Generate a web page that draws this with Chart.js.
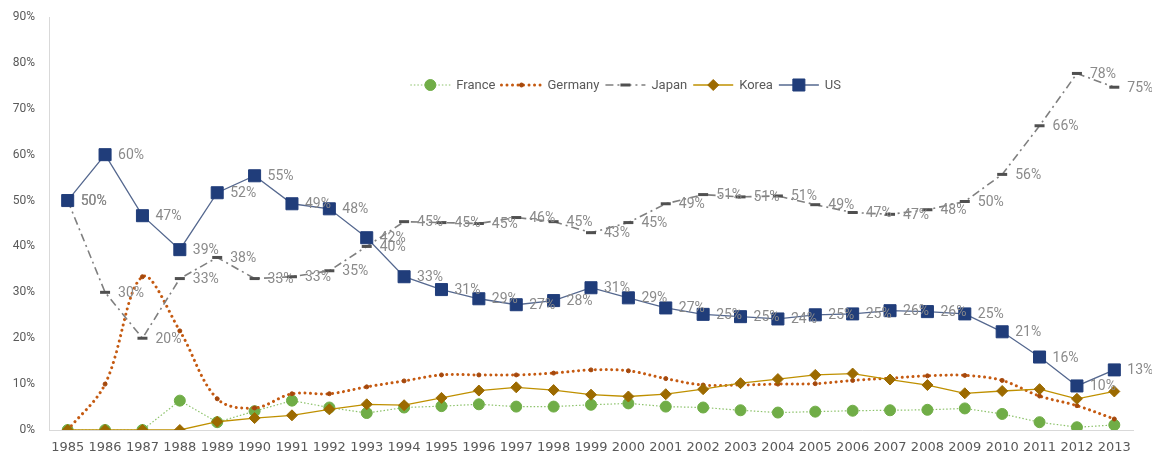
<!DOCTYPE html>
<html>
<head>
<meta charset="utf-8">
<script src="https://cdn.jsdelivr.net/npm/chart.js@4/dist/chart.umd.min.js"></script>
<style>
  html, body { margin: 0; padding: 0; background: #ffffff; }
  #wrap { width: 1152px; height: 454px; position: relative; }
</style>
</head>
<body>
<div id="wrap"><canvas id="chart"></canvas></div>
<script>
// Share of each country, in percent, by year
const years = ['1985','1986','1987','1988','1989','1990','1991','1992','1993','1994',
  '1995','1996','1997','1998','1999','2000','2001','2002','2003','2004',
  '2005','2006','2007','2008','2009','2010','2011','2012','2013'];

const france = [0, 0, 0, 6.4, 1.7, 4.1, 6.4, 4.9, 3.7, 4.9,
  5.2, 5.6, 5.1, 5.1, 5.5, 5.8, 5.1, 4.9, 4.3, 3.8,
  4.0, 4.2, 4.3, 4.4, 4.7, 3.5, 1.7, 0.6, 1.1];

const germany = [0, 10, 33.4, 21.6, 6.8, 4.8, 7.9, 7.9, 9.4, 10.7,
  12.0, 12.0, 12.0, 12.4, 13.1, 12.9, 11.2, 9.8, 9.8, 10.0,
  10.1, 10.8, 11.3, 11.8, 11.9, 10.8, 7.4, 5.3, 2.4];

const japan = [50, 30, 20, 33, 37.6, 33.0, 33.4, 34.7, 40.0, 45.4,
  45.2, 45.0, 46.3, 45.4, 43.0, 45.2, 49.3, 51.3, 50.8, 51.0,
  49.1, 47.4, 47.0, 48.0, 49.8, 55.7, 66.3, 77.7, 74.7];

const korea = [0, 0, 0, 0, 1.8, 2.6, 3.2, 4.5, 5.6, 5.4,
  7.0, 8.6, 9.3, 8.7, 7.7, 7.3, 7.8, 8.9, 10.2, 11.1,
  12.0, 12.3, 11.0, 9.8, 8.0, 8.5, 8.9, 6.8, 8.4];

const us = [50, 60, 46.7, 39.3, 51.7, 55.4, 49.3, 48.2, 41.9, 33.4,
  30.6, 28.6, 27.3, 28.2, 31.0, 28.8, 26.6, 25.2, 24.7, 24.2,
  25.1, 25.3, 26.0, 25.8, 25.3, 21.4, 15.9, 9.6, 13.1];

const yMax = 90;
const yStep = 10;

const fmtPct = v => Math.round(v) + '%';

// Value labels to the right of each point, for series flagged with showValues
const valueLabels = {
  id: 'valueLabels',
  afterDatasetsDraw(chart) {
    const ctx = chart.ctx;
    ctx.save();
    ctx.font = '14px Roboto, "Open Sans", sans-serif';
    ctx.fillStyle = '#8a8a8a';
    ctx.textAlign = 'left';
    ctx.textBaseline = 'middle';
    chart.data.datasets.forEach((ds, i) => {
      if (!ds.showValues) return;
      const meta = chart.getDatasetMeta(i);
      meta.data.forEach((pt, j) => {
        ctx.fillText(fmtPct(ds.data[j]), pt.x + 13, pt.y + 1);
      });
    });
    ctx.restore();
  }
};

// Draw a point marker in the style of a dataset
function drawMarker(ctx, ds, x, y) {
  const r = ds.pointRadius;
  ctx.save();
  ctx.fillStyle = ds.pointBackgroundColor;
  ctx.strokeStyle = ds.pointBorderColor;
  ctx.lineWidth = ds.pointBorderWidth;
  ctx.setLineDash([]);
  ctx.beginPath();
  switch (ds.pointStyle) {
    case 'rect': {
      const s = r * Math.SQRT1_2;
      ctx.rect(x - s, y - s, 2 * s, 2 * s);
      ctx.fill(); ctx.stroke();
      break;
    }
    case 'rectRot':
      ctx.moveTo(x, y - r); ctx.lineTo(x + r, y); ctx.lineTo(x, y + r); ctx.lineTo(x - r, y);
      ctx.closePath(); ctx.fill(); ctx.stroke();
      break;
    case 'line':
      ctx.moveTo(x - r, y); ctx.lineTo(x + r, y); ctx.stroke();
      break;
    default:
      ctx.arc(x, y, r, 0, Math.PI * 2);
      ctx.fill(); ctx.stroke();
  }
  ctx.restore();
}

// Legend row with line-and-marker samples, placed inside the plot area
const sampleLegend = {
  id: 'sampleLegend',
  afterDraw(chart) {
    const ctx = chart.ctx;
    const area = chart.chartArea;
    const sampleW = 40, textGap = 6, itemGap = 6;
    const order = ['France', 'Germany', 'Japan', 'Korea', 'US'];
    const items = order.map(n => chart.data.datasets.find(d => d.label === n));
    ctx.save();
    ctx.font = '13px Roboto, "Open Sans", sans-serif';
    const widths = items.map(d => sampleW + textGap + ctx.measureText(d.label).width);
    const total = widths.reduce((a, b) => a + b, 0) + itemGap * (items.length - 1);
    const cy = area.top + 68;
    let x = area.left + (area.right - area.left) * 0.532 - total / 2;
    items.forEach((d, i) => {
      ctx.save();
      ctx.strokeStyle = d.borderColor;
      ctx.lineWidth = d.borderWidth;
      ctx.lineCap = d.borderCapStyle || 'butt';
      ctx.setLineDash(d.borderDash || []);
      ctx.beginPath();
      ctx.moveTo(x, cy); ctx.lineTo(x + sampleW, cy);
      ctx.stroke();
      ctx.restore();
      drawMarker(ctx, d, x + sampleW / 2, cy);
      ctx.fillStyle = '#595959';
      ctx.textAlign = 'left';
      ctx.textBaseline = 'middle';
      ctx.fillText(d.label, x + sampleW + textGap, cy + 1);
      x += widths[i] + itemGap;
    });
    ctx.restore();
  }
};

new Chart(document.getElementById('chart'), {
  type: 'line',
  data: {
    labels: years,
    datasets: [
      {
        label: 'France', data: france, order: 4,
        borderColor: '#8cc26a', borderWidth: 1.2, borderDash: [1.5, 2],
        pointStyle: 'circle', pointRadius: 5.5, pointBackgroundColor: '#70ad47',
        pointBorderColor: '#70ad47', pointBorderWidth: 1, tension: 0
      },
      {
        label: 'Germany', data: germany, order: 3,
        borderColor: '#c55a11', borderWidth: 3, borderDash: [0.01, 5.5], borderCapStyle: 'round',
        pointStyle: 'circle', pointRadius: 2, pointBackgroundColor: '#a5480c',
        pointBorderColor: '#a5480c', pointBorderWidth: 1, tension: 0.35
      },
      {
        label: 'Japan', data: japan, order: 2, showValues: true,
        borderColor: '#7f7f7f', borderWidth: 1.6, borderDash: [8, 4, 2, 4],
        pointStyle: 'line', pointRadius: 5, pointBackgroundColor: '#505050',
        pointBorderColor: '#505050', pointBorderWidth: 3, tension: 0
      },
      {
        label: 'Korea', data: korea, order: 1,
        borderColor: '#bf9000', borderWidth: 1.3,
        pointStyle: 'rectRot', pointRadius: 5.5, pointBackgroundColor: '#9c6a00',
        pointBorderColor: '#9c6a00', pointBorderWidth: 1, tension: 0
      },
      {
        label: 'US', data: us, order: 0, showValues: true,
        borderColor: '#55688f', borderWidth: 1.3,
        pointStyle: 'rect', pointRadius: 8.5, pointBackgroundColor: '#203d7a',
        pointBorderColor: '#203d7a', pointBorderWidth: 1, tension: 0
      }
    ]
  },
  options: {
    responsive: true,
    maintainAspectRatio: false,
    animation: false,
    events: [],
    layout: { padding: { left: 0, right: 19, top: 17, bottom: 0 } },
    plugins: {
      legend: { display: false },
      tooltip: { enabled: false }
    },
    scales: {
      x: {
        offset: true,
        grid: { display: false, drawTicks: false },
        border: { display: true, color: '#d9d9d9', width: 1 },
        afterFit: s => { s.height = 24; s.paddingLeft = 0; s.paddingRight = 0; },
        ticks: {
          autoSkip: false, maxRotation: 0, minRotation: 0, padding: 10,
          color: '#595959', font: { family: '"DejaVu Sans", sans-serif', size: 13 }
        }
      },
      y: {
        min: 0, max: yMax,
        grid: { display: false, drawTicks: false },
        border: { display: true, color: '#d9d9d9', width: 1 },
        afterFit: s => { s.width = 49; s.paddingTop = 0; s.paddingBottom = 0; },
        ticks: {
          stepSize: yStep, padding: 14,
          color: '#595959', font: { family: 'Roboto, sans-serif', size: 12 },
          callback: v => v + '%'
        }
      }
    }
  },
  plugins: [valueLabels, sampleLegend]
});
</script>
</body>
</html>
